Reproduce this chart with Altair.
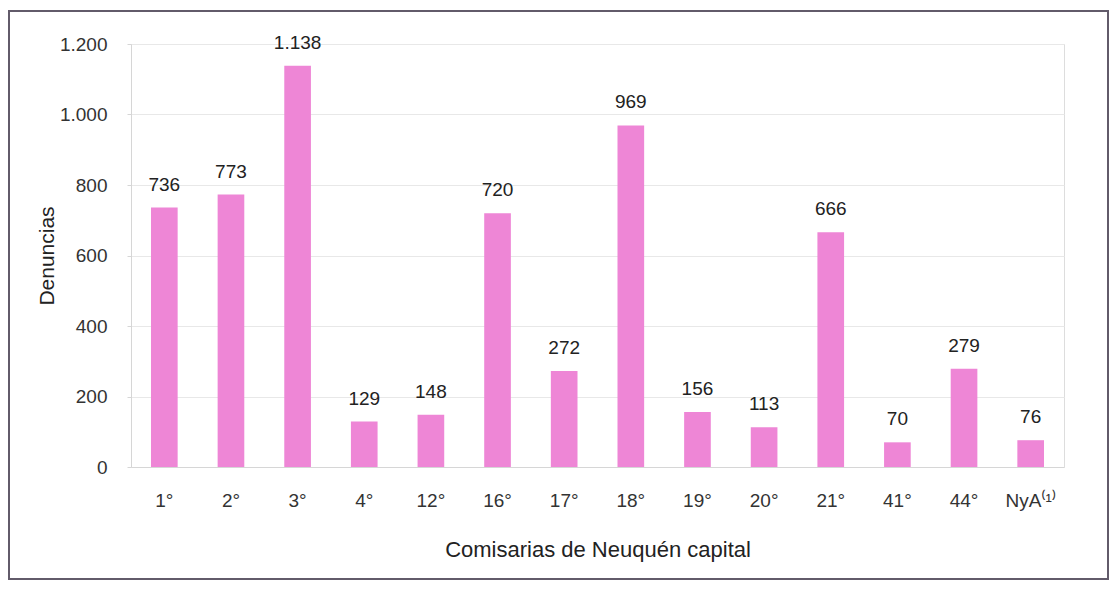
import altair as alt
import pandas as pd

comisarias = ["1°", "2°", "3°", "4°", "12°", "16°", "17°", "18°", "19°", "20°", "21°", "41°", "44°", "NyA⁽¹⁾"]
denuncias = [736, 773, 1138, 129, 148, 720, 272, 969, 156, 113, 666, 70, 279, 76]
y_ticks = [0, 200, 400, 600, 800, 1000, 1200]

etiquetas = [f"{v:,}".replace(",", ".") for v in denuncias]
df = pd.DataFrame({"comisaria": comisarias, "denuncias": denuncias, "etiqueta": etiquetas})

FONT = "Liberation Sans"
PINK = "#EE86D6"

base = alt.Chart(df).encode(
    x=alt.X(
        "comisaria:N",
        sort=comisarias,
        scale=alt.Scale(paddingInner=0, paddingOuter=0),
        axis=alt.Axis(
            title="Comisarias de Neuquén capital",
            labelAngle=0,
            ticks=False,
            labelPadding=24,
            labelFontSize=19,
            labelFont=FONT,
            labelColor="#333333",
            domainColor="#d6d6d6",
            titleFont=FONT,
            titleFontSize=22,
            titleFontWeight="normal",
            titleColor="#222222",
            titlePadding=29,
        ),
    )
)

bars = base.mark_bar(color=PINK, width=alt.RelativeBandSize(0.4)).encode(
    y=alt.Y(
        "denuncias:Q",
        scale=alt.Scale(domain=[0, 1200], nice=False),
        axis=alt.Axis(
            title="Denuncias",
            values=y_ticks,
            labelExpr="replace(format(datum.value, ','), ',', '.')",
            labelFontSize=19,
            labelFont=FONT,
            labelColor="#333333",
            labelPadding=20,
            tickSize=4,
            tickColor="#d6d6d6",
            domainColor="#d6d6d6",
            gridColor="#e8e8e8",
            titleFont=FONT,
            titleFontSize=21,
            titleFontWeight="normal",
            titleColor="#222222",
            titlePadding=2,
        ),
    )
)

text = base.mark_text(
    dy=-23, baseline="middle", fontSize=19, font=FONT, color="#222222"
).encode(y="denuncias:Q", text="etiqueta:N")

frame = alt.Chart(pd.DataFrame({"k": [0]})).mark_rect(
    filled=False, stroke="#625b6a", strokeWidth=2
).encode(
    x=alt.value(-122), x2=alt.value(977), y=alt.value(-33), y2=alt.value(535)
)

chart = alt.layer(bars, text, frame).properties(
    width=933,
    height=423,
    autosize=alt.AutoSizeParams(type="none"),
    padding={"left": 123, "top": 36, "right": 46, "bottom": 114},
).configure_view(stroke=None).configure(background="white")

chart.save("out.html", embed_options={"renderer": "svg", "actions": False})
